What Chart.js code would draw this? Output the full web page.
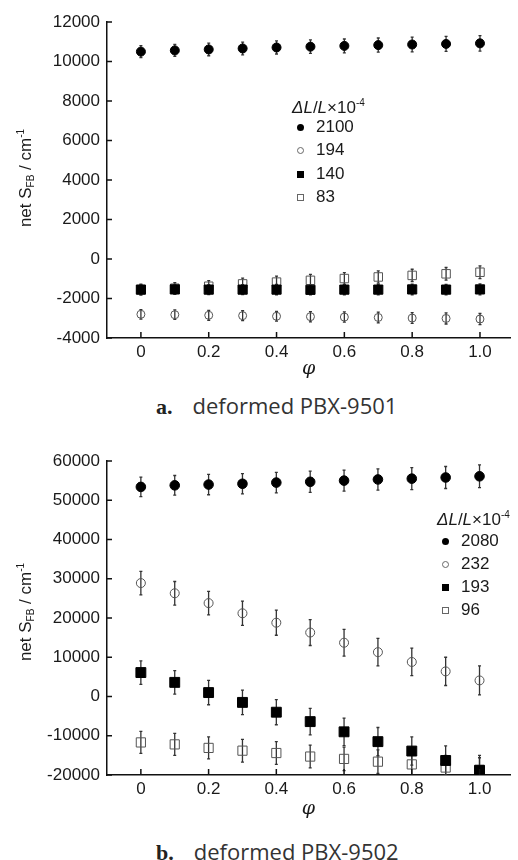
<!DOCTYPE html>
<html>
<head>
<meta charset="utf-8">
<script src="https://cdn.jsdelivr.net/npm/chart.js@4.4.1/dist/chart.umd.min.js"></script>
<style>
body{margin:0;background:#fff;width:518px;height:860px;overflow:hidden;position:relative;font-family:"Liberation Sans",Arial,sans-serif;color:#1a1a1a}
.panel{position:absolute;left:0;width:518px;height:380px}
.ytitle{position:absolute;font-size:17px;white-space:nowrap;transform:translate(-50%,-50%) rotate(-90deg)}
.ytitle sub{font-size:10px;vertical-align:-3px}
.ytitle sup{font-size:10px;vertical-align:7px}
.lgt{position:absolute;font-size:17px;white-space:nowrap;line-height:20px}
.lgt sup{font-size:10px;vertical-align:7px}
.row{position:absolute;font-size:17px;line-height:20px;white-space:nowrap}
.mk{position:absolute;width:7px;height:7px;box-sizing:border-box;top:7px}
.fc{border-radius:50%;background:#000}
.oc{border-radius:50%;border:1px solid #666}
.fs{background:#000}
.os{border:1px solid #666}
.cap{position:absolute;left:156px;font-size:22px;line-height:26px;white-space:nowrap;color:#333}
.cap b{font-family:"Liberation Serif",serif;font-size:22px;color:#222;margin-right:20px}
.cap span{font-family:"Open Sans",sans-serif}
</style>
</head>
<body>
<div class="panel" style="top:0"><canvas id="chartA" width="518" height="380"></canvas></div>
<div class="panel" style="top:440px"><canvas id="chartB" width="518" height="380"></canvas></div>

<div class="ytitle" style="left:25px;top:178px">net S<sub>FB</sub> / cm<sup>-1</sup></div>
<div class="ytitle" style="left:25px;top:612px">net S<sub>FB</sub> / cm<sup>-1</sup></div>

<div class="cap" style="top:392px"><b>a.</b><span>deformed PBX-9501</span></div>
<div class="cap" style="top:838px"><b>b.</b><span>deformed PBX-9502</span></div>

<script>
var phi = [0, 0.1, 0.2, 0.3, 0.4, 0.5, 0.6, 0.7, 0.8, 0.9, 1.0]
var xTicks = [0, 0.2, 0.4, 0.6, 0.8, 1.0]

// panel a: deformed PBX-9501
var labelsA = ['2100', '194', '140', '83']
var a2100 = [10500, 10560, 10610, 10660, 10710, 10750, 10790, 10830, 10860, 10890, 10920]
var a2100Err = [300, 300, 320, 320, 330, 340, 350, 360, 370, 380, 390]
var a194 = [-2800, -2820, -2850, -2870, -2900, -2920, -2940, -2960, -2990, -3010, -3040]
var a194Err = [240, 240, 250, 250, 250, 260, 260, 270, 270, 280, 280]
var a140 = [-1550, -1540, -1550, -1550, -1550, -1560, -1550, -1550, -1540, -1550, -1540]
var a140Err = [250, 250, 250, 250, 260, 260, 260, 270, 270, 270, 280]
var a83 = [-1550, -1480, -1380, -1260, -1170, -1080, -990, -910, -830, -750, -670]
var a83Err = [280, 280, 290, 290, 300, 300, 300, 310, 310, 320, 320]

// panel b: deformed PBX-9502
var labelsB = ['2080', '232', '193', '96']
var b2080 = [53400, 53800, 54000, 54200, 54500, 54700, 55000, 55300, 55500, 55800, 56100]
var b2080Err = [2500, 2500, 2600, 2600, 2600, 2700, 2700, 2700, 2800, 2800, 2900]
var b232 = [28900, 26300, 23800, 21200, 18800, 16300, 13700, 11300, 8800, 6400, 4100]
var b232Err = [3000, 3000, 3000, 3100, 3200, 3300, 3400, 3500, 3500, 3600, 3700]
var b193 = [6100, 3600, 1000, -1500, -4000, -6400, -9000, -11500, -13900, -16300, -18800]
var b193Err = [3000, 3000, 3100, 3100, 3200, 3400, 3500, 3600, 3600, 3700, 3800]
var b96 = [-11700, -12200, -13100, -13800, -14400, -15300, -15900, -16600, -17300, -18100, -18700]
var b96Err = [2800, 2800, 2800, 2900, 2900, 2900, 3000, 3000, 3000, 3100, 3100]

var markerKinds = ['fc', 'oc', 'fs', 'os']

function points(vals){
    return phi.map(function(x, i){ return {x: x, y: vals[i]} })
}

function makeSets(labels, vals, errs, sizes){
    var sets = []
    for (var i = 0; i < labels.length; i++) {
        var filled = (i % 2 == 0)
        sets.push({
            label: labels[i],
            data: points(vals[i]),
            errors: errs[i],
            pointStyle: i < 2 ? 'circle' : 'rect',
            pointRadius: sizes[i],
            pointBackgroundColor: filled ? '#000' : 'rgba(0,0,0,0)',
            pointBorderColor: filled ? '#000' : '#555',
            pointBorderWidth: 1,
            showLine: false
        })
    }
    return sets
}

var errorBars = {
    id: 'errorBars',
    beforeDatasetsDraw: function(chart){
        var ctx = chart.ctx, xs = chart.scales.x, ys = chart.scales.y, a = chart.chartArea
        ctx.save()
        ctx.beginPath()
        ctx.rect(a.left, a.top - 10, a.right - a.left, a.bottom - a.top + 10)
        ctx.clip()
        ctx.strokeStyle = '#333'
        ctx.lineWidth = 1.3
        chart.data.datasets.forEach(function(ds){
            ds.data.forEach(function(p, i){
                var x = xs.getPixelForValue(p.x)
                var y1 = ys.getPixelForValue(p.y - ds.errors[i])
                var y2 = ys.getPixelForValue(p.y + ds.errors[i])
                ctx.beginPath()
                ctx.moveTo(x, y1); ctx.lineTo(x, y2)
                ctx.moveTo(x - 1.5, y1); ctx.lineTo(x + 1.5, y1)
                ctx.moveTo(x - 1.5, y2); ctx.lineTo(x + 1.5, y2)
                ctx.stroke()
            })
        })
        ctx.restore()
    },
    afterDraw: function(chart){
        // short tick marks pointing into the plot
        var ctx = chart.ctx, xs = chart.scales.x, ys = chart.scales.y, a = chart.chartArea
        ctx.save()
        ctx.strokeStyle = '#111'
        ctx.lineWidth = 1.5
        ctx.beginPath()
        ys.ticks.forEach(function(t){
            var y = ys.getPixelForValue(t.value)
            ctx.moveTo(a.left, y); ctx.lineTo(a.left + 5, y)
        })
        xs.ticks.forEach(function(t){
            var x = xs.getPixelForValue(t.value)
            ctx.moveTo(x, a.bottom); ctx.lineTo(x, a.bottom - 6)
        })
        ctx.stroke()
        ctx.restore()
    }
}

function makeChart(id, sets, yMin, yMax, yStep, padTop, xHeight){
    var tickFont = {family: 'Liberation Sans', size: 17}
    return new Chart(document.getElementById(id), {
        type: 'scatter',
        data: {datasets: sets},
        plugins: [errorBars],
        options: {
            responsive: false,
            animation: false,
            layout: {padding: {top: padTop, left: 0, right: 0, bottom: 0}},
            plugins: {legend: {display: false}, tooltip: {enabled: false}},
            scales: {
                x: {
                    type: 'linear',
                    min: -0.1,
                    max: 1.09,
                    afterFit: function(s){ s.height = xHeight },
                    afterBuildTicks: function(s){ s.ticks = xTicks.map(function(v){ return {value: v} }) },
                    grid: {display: false, drawTicks: false},
                    border: {display: true, color: '#111', width: 1.5},
                    ticks: {
                        padding: 4, color: '#1a1a1a', font: tickFont, autoSkip: false, maxRotation: 0,
                        callback: function(v){ return v === 0 ? '0' : v.toFixed(1) }
                    },
                    title: {display: true, text: 'φ', color: '#1a1a1a', padding: 0,
                        font: {family: 'DejaVu Serif', size: 19, style: 'italic'}}
                },
                y: {
                    min: yMin,
                    max: yMax,
                    afterFit: function(s){ s.width = 107 },
                    grid: {display: false, drawTicks: false},
                    border: {display: true, color: '#111', width: 1.5},
                    ticks: {
                        stepSize: yStep, padding: 7, color: '#1a1a1a', font: tickFont,
                        callback: function(v){ return String(v) }
                    }
                }
            }
        }
    })
}

makeChart('chartA',
    makeSets(labelsA, [a2100, a194, a140, a83], [a2100Err, a194Err, a140Err, a83Err], [4.5, 4, 6.5, 6]),
    -4000, 12000, 2000, 22, 42)
makeChart('chartB',
    makeSets(labelsB, [b2080, b232, b193, b96], [b2080Err, b232Err, b193Err, b96Err], [4.8, 4.5, 7, 6.5]),
    -20000, 60000, 10000, 21, 45)

function makeLegend(labels, left, titleY, rowY, gap){
    var t = document.createElement('div')
    t.className = 'lgt'
    t.style.left = left + 'px'
    t.style.top = (titleY - 10) + 'px'
    t.innerHTML = '<i>ΔL</i>/<i>L</i>×10<sup>-4</sup>'
    document.body.appendChild(t)
    for (var i = 0; i < labels.length; i++) {
        var r = document.createElement('div')
        r.className = 'row'
        r.style.left = (left + 5) + 'px'
        r.style.top = (rowY + i * gap - 10) + 'px'
        r.innerHTML = '<span class="mk ' + markerKinds[i] + '" style="left:0"></span>' +
            '<span style="margin-left:' + (gap > 22 ? 19 : 16) + 'px">' + labels[i] + '</span>'
        document.body.appendChild(r)
    }
}
makeLegend(labelsA, 292, 103, 127, 23.3)
makeLegend(labelsB, 437, 515, 541, 23)
</script>
</body>
</html>
